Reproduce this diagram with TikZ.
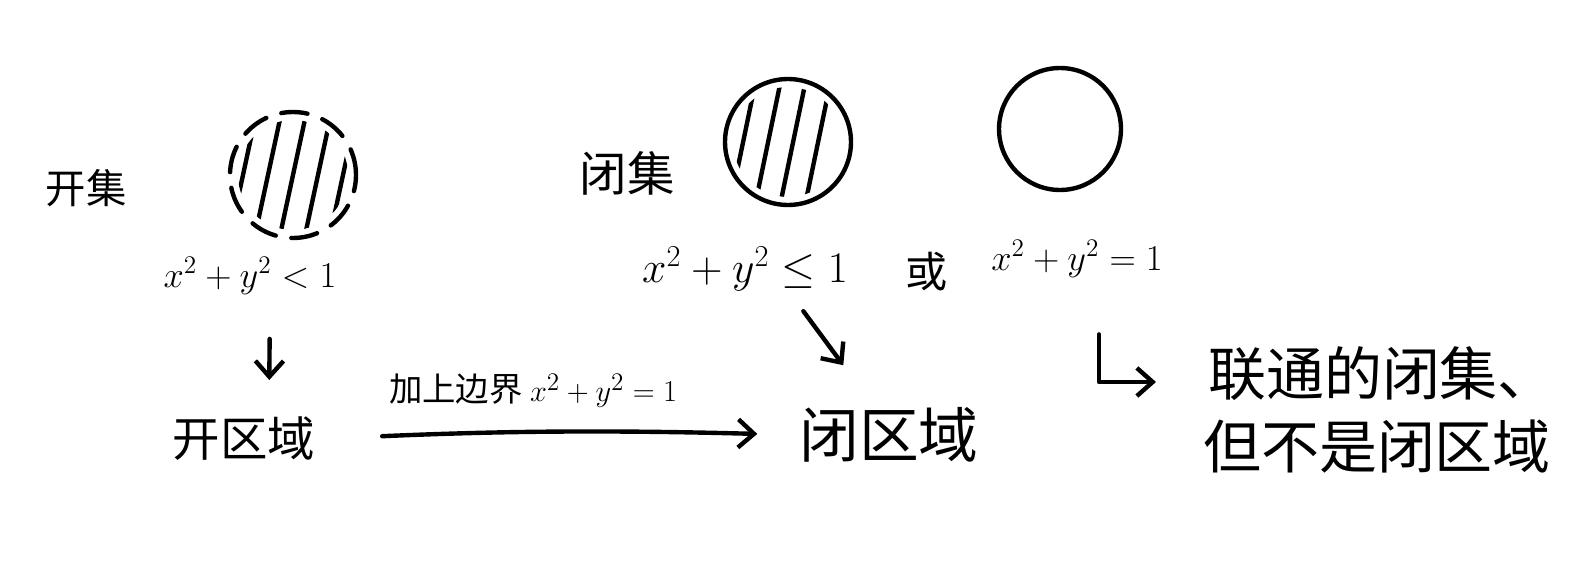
\documentclass[tikz,border=0pt]{standalone}
\usepackage{fontspec}
\setmainfont{Noto Sans CJK SC}
\usetikzlibrary{arrows.meta}
\tikzset{
  hand/.style={line width=2.5pt, line cap=round, line join=round},
  txt/.style={inner sep=1pt, font=\fontsize{#1}{#1}\selectfont},
  txt/.default=26
}
\begin{document}
\begin{tikzpicture}[x=0.02cm, y=-0.02cm, >={Straight Barb[length=9pt,width=16pt]}]
    \useasboundingbox (0,0) rectangle (1593,584);
    % open set: dashed disc
    \begin{scope}
      \clip (293,175) circle (1.1cm);
      \foreach \d in {-50,-25,0,25,50} \draw[hand] (293+\d-14,240) -- (293+\d+14,110);
    \end{scope}
    \draw[hand, dash pattern=on 15pt off 9pt] (293,175) circle (1.26cm);
    % closed set: solid disc
    \begin{scope}
      \clip (788,142) circle (1.1cm);
      \foreach \d in {-45,-20,5,30} \draw[hand] (788+\d-14,210) -- (788+\d+14,75);
    \end{scope}
    \draw[hand] (788,142) circle (1.26cm);
    % circle only
    \draw[hand] (1060,129) circle (1.22cm);
    % labels
    \node[txt=23] (open) at (86,188) {开集};
    \node[txt=27] (closed) at (627,173) {闭集};
    \node[txt=21] (lt) at (250,276) {$x^2+y^2<1$};
    \node[txt=23] (le) at (745,269) {$x^2+y^2\le 1$};
    \node[txt=24] (or) at (927,272) {或};
    \node[txt=22] (eq) at (1077,259) {$x^2+y^2=1$};
    \node[txt=27] (oreg) at (244,439) {开区域};
    \node[txt=34] (creg) at (889,435) {闭区域};
    \node[txt=19] (bd) at (533,391) {加上边界\ $x^2+y^2=1$};
    \node[txt=33] (conn) at (1382,374) {联通的闭集、};
    \node[txt=33] (notreg) at (1377,447) {但不是闭区域};
    % arrows
    \draw[hand,->,shorten <=0.85cm,shorten >=0.7cm] ([xshift=0.4cm]lt.south) -- ([xshift=0.5cm]oreg.north);
    \draw[hand,->,shorten <=1.3cm,shorten >=0.8cm] (oreg.east) to[bend left=2] (creg.west);
    \draw[hand,->,shorten <=0.45cm,shorten >=1.0cm] ([xshift=0.9cm]le.south) -- ([xshift=-0.32cm]creg.north);
    \draw[hand,->,shorten <=1.1cm,shorten >=1.0cm] ([xshift=0.44cm]eq.south) |- (conn.west |- 0,382);
\end{tikzpicture}
\end{document}
